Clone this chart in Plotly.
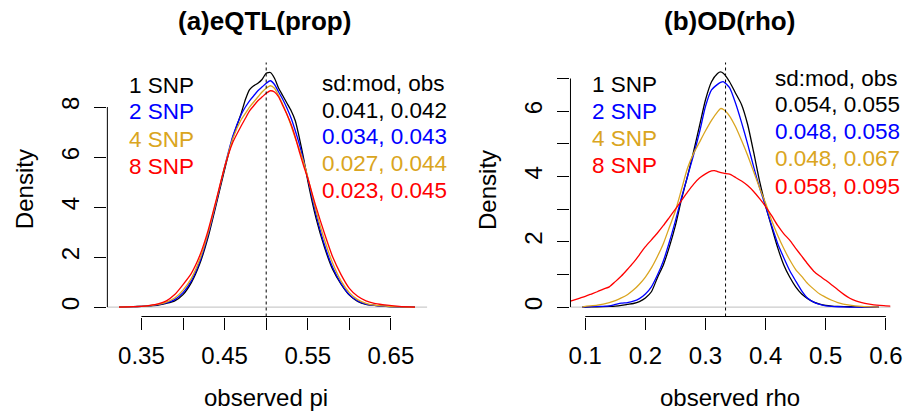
import plotly.graph_objects as go

# ---------------- data ----------------
series_names = ["1 SNP", "2 SNP", "4 SNP", "8 SNP"]
series_colors = ["#000000", "#0000FF", "#DAA520", "#FF0000"]

# panel (a): observed pi
pi_x = [0.323, 0.34, 0.35, 0.36, 0.37, 0.38, 0.39, 0.40, 0.41, 0.42, 0.43, 0.44, 0.45,
        0.46, 0.47, 0.475, 0.48, 0.485, 0.49, 0.495, 0.50, 0.505, 0.51, 0.515, 0.52,
        0.525, 0.53, 0.535, 0.54, 0.545, 0.55, 0.56, 0.57, 0.58, 0.59, 0.60, 0.61,
        0.62, 0.63, 0.64, 0.66, 0.679]
pi_snp1 = [0.0, 0.02, 0.03, 0.05, 0.08, 0.15, 0.25, 0.50, 0.98, 1.72, 2.78, 4.12, 5.50,
           6.80, 7.75, 8.30, 8.70, 8.85, 8.95, 9.10, 9.35, 9.38, 9.15, 8.75, 8.45,
           8.15, 7.85, 7.45, 6.75, 5.95, 5.05, 3.55, 2.40, 1.50, 0.92, 0.48, 0.23,
           0.11, 0.07, 0.04, 0.01, 0.0]
pi_snp2 = [0.0, 0.02, 0.03, 0.06, 0.10, 0.17, 0.30, 0.58, 1.05, 1.80, 2.88, 4.20, 5.60,
           6.85, 7.70, 8.00, 8.25, 8.45, 8.65, 8.80, 8.95, 9.05, 8.90, 8.60, 8.30,
           7.95, 7.55, 7.05, 6.50, 5.85, 5.15, 3.70, 2.50, 1.58, 0.95, 0.50, 0.25,
           0.12, 0.07, 0.04, 0.01, 0.0]
pi_snp4 = [0.0, 0.02, 0.03, 0.06, 0.11, 0.20, 0.36, 0.68, 1.15, 1.90, 2.95, 4.25, 5.60,
           6.75, 7.50, 7.75, 8.00, 8.20, 8.40, 8.60, 8.75, 8.85, 8.75, 8.45, 8.10,
           7.70, 7.25, 6.75, 6.30, 5.80, 5.20, 3.85, 2.70, 1.75, 1.05, 0.58, 0.30,
           0.15, 0.08, 0.05, 0.01, 0.0]
pi_snp8 = [0.0, 0.02, 0.03, 0.07, 0.13, 0.25, 0.50, 0.90, 1.35, 2.05, 3.05, 4.30, 5.60,
           6.60, 7.25, 7.55, 7.85, 8.05, 8.25, 8.40, 8.55, 8.65, 8.60, 8.40, 8.05,
           7.70, 7.30, 6.80, 6.20, 5.65, 5.15, 4.00, 2.95, 2.00, 1.30, 0.75, 0.43,
           0.25, 0.15, 0.10, 0.03, 0.0]
pi_true = 0.5
pi_sd_labels = ["sd:mod, obs", "0.041, 0.042", "0.034, 0.043", "0.027, 0.044", "0.023, 0.045"]
pi_xticks = [0.35, 0.40, 0.45, 0.50, 0.55, 0.60, 0.65]
pi_xticktext = ["0.35", "", "0.45", "", "0.55", "", "0.65"]
pi_yticks = [0, 2, 4, 6, 8]
pi_yticktext = ["0", "2", "4", "6", "8"]

# panel (b): observed rho
rho_x = [0.095, 0.10, 0.12, 0.14, 0.15, 0.16, 0.17, 0.18, 0.19, 0.20, 0.21, 0.22, 0.23,
         0.24, 0.25, 0.26, 0.27, 0.28, 0.29, 0.30, 0.31, 0.32, 0.325, 0.33, 0.34, 0.35,
         0.36, 0.37, 0.38, 0.39, 0.40, 0.41, 0.42, 0.43, 0.44, 0.45, 0.46, 0.47, 0.48,
         0.49, 0.50, 0.51, 0.52, 0.54, 0.56, 0.588]
rho_snp1 = [0.0, 0.0, 0.01, 0.02, 0.03, 0.05, 0.08, 0.11, 0.17, 0.28, 0.47, 0.90, 1.30,
            1.85, 2.50, 3.30, 4.00, 4.75, 5.55, 6.35, 6.90, 7.15, 7.20, 7.15, 6.90, 6.55,
            6.20, 5.60, 4.75, 3.85, 3.10, 2.45, 1.82, 1.30, 0.92, 0.62, 0.40, 0.26, 0.15,
            0.09, 0.05, 0.03, 0.02, 0.01, 0.0, 0.0]
rho_snp2 = [0.0, 0.01, 0.02, 0.04, 0.08, 0.12, 0.14, 0.18, 0.26, 0.40, 0.62, 0.98, 1.42,
            2.00, 2.65, 3.35, 4.00, 4.65, 5.35, 6.15, 6.65, 6.82, 6.88, 6.90, 6.72, 6.24,
            5.65, 5.00, 4.30, 3.65, 3.08, 2.50, 1.95, 1.52, 1.12, 0.80, 0.50, 0.27, 0.15,
            0.08, 0.04, 0.02, 0.01, 0.0, 0.0, 0.0]
rho_snp4 = [0.0, 0.02, 0.06, 0.14, 0.20, 0.28, 0.38, 0.52, 0.70, 0.92, 1.20, 1.55, 1.95,
            2.45, 2.95, 3.60, 4.25, 4.70, 5.05, 5.40, 5.72, 5.98, 6.08, 6.05, 5.85, 5.52,
            5.10, 4.65, 4.15, 3.65, 3.18, 2.65, 2.20, 1.80, 1.45, 1.15, 0.94, 0.72, 0.55,
            0.40, 0.30, 0.21, 0.14, 0.06, 0.02, 0.0]
rho8_x = [0.0754, 0.09, 0.10, 0.11, 0.12, 0.13, 0.14, 0.15, 0.16, 0.17, 0.18, 0.19, 0.20,
          0.21, 0.22, 0.23, 0.24, 0.25, 0.26, 0.27, 0.28, 0.29, 0.30, 0.31, 0.315, 0.32,
          0.33, 0.34, 0.35, 0.36, 0.37, 0.38, 0.39, 0.40, 0.41, 0.42, 0.43, 0.44, 0.45,
          0.46, 0.47, 0.48, 0.49, 0.50, 0.51, 0.52, 0.53, 0.54, 0.55, 0.56, 0.57, 0.58,
          0.59, 0.60, 0.6077]
rho_snp8 = [0.18, 0.27, 0.33, 0.40, 0.47, 0.55, 0.62, 0.78, 0.95, 1.15, 1.36, 1.60, 1.85,
            2.06, 2.27, 2.50, 2.75, 3.00, 3.26, 3.52, 3.76, 3.95, 4.08, 4.17, 4.18, 4.15,
            4.10, 4.07, 3.97, 3.86, 3.72, 3.54, 3.32, 3.08, 2.80, 2.50, 2.25, 2.05, 1.80,
            1.56, 1.32, 1.10, 0.95, 0.82, 0.68, 0.53, 0.39, 0.27, 0.19, 0.14, 0.10, 0.07,
            0.05, 0.04, 0.03]
rho_true = 1 / 3
rho_sd_labels = ["sd:mod, obs", "0.054, 0.055", "0.048, 0.058", "0.048, 0.067", "0.058, 0.095"]
rho_xticks = [0.1, 0.2, 0.3, 0.4, 0.5, 0.6]
rho_xticktext = ["0.1", "0.2", "0.3", "0.4", "0.5", "0.6"]
rho_yticks = [0, 1, 2, 3, 4, 5, 6, 7]
rho_yticktext = ["0", "", "2", "", "4", "", "6", ""]

titles = ["(a)eQTL(prop)", "(b)OD(rho)"]
xlabels = ["observed pi", "observed rho"]
ylabel = "Density"

# ---------------- layout constants ----------------
W, H = 916, 414
FONT = "Liberation Sans, Arial, Helvetica, sans-serif"

def px(x):
    return x / W

def py(y):
    return 1 - y / H

panels = [
    dict(xd=(107, 431.7), xr=(0.309, 0.6935), yr=(-0.376, 9.78),
         xt=pi_xticks, xtt=pi_xticktext, yt=pi_yticks, ytt=pi_yticktext, true=pi_true,
         series=[(pi_x, pi_snp1), (pi_x, pi_snp2), (pi_x, pi_snp4), (pi_x, pi_snp8)],
         sd=pi_sd_labels, leg_x=127, sd_x=323, leg_y=[85, 112, 139.3, 166.5],
         sd_y=[83.3, 110, 136.7, 163.3, 190.3], title_x=267, ylab_x=23, xlab_x=268),
    dict(xd=(577.3, 902.3), xr=(0.0754, 0.6077), yr=(-0.288, 7.49),
         xt=rho_xticks, xtt=rho_xticktext, yt=rho_yticks, ytt=rho_yticktext, true=rho_true,
         series=[(rho_x, rho_snp1), (rho_x, rho_snp2), (rho_x, rho_snp4), (rho8_x, rho_snp8)],
         sd=rho_sd_labels, leg_x=597, sd_x=782.7, leg_y=[84.7, 111.7, 138.7, 165.7],
         sd_y=[78.3, 104.7, 131.3, 158.7, 186.2], title_x=739, ylab_x=493, xlab_x=739),
]

fig = go.Figure()
annotations = []
shapes = []
ydom = (py(316.5), py(62.5))

for i, p in enumerate(panels):
    sfx = "" if i == 0 else str(i + 1)
    xa, ya = "x" + sfx, "y" + sfx
    # zero line (gray)
    shapes.append(dict(type="line", xref=f"{xa} domain", yref=ya, x0=0, x1=1, y0=0, y1=0,
                       line=dict(color="#BEBEBE", width=1), layer="below"))
    for (xs, ys), c, n in zip(p["series"], series_colors, series_names):
        fig.add_trace(go.Scatter(x=xs, y=ys, mode="lines", name=n, showlegend=False,
                                 line=dict(color=c, width=1.3, shape="spline", smoothing=0.6),
                                 xaxis=xa, yaxis=ya, cliponaxis=True))
    # true value dotted line
    shapes.append(dict(type="line", xref=xa, yref=f"{ya} domain", x0=p["true"], x1=p["true"],
                       y0=0, y1=1, line=dict(color="black", width=1, dash="dot")))
    # R-style axis lines spanning first..last tick
    shapes.append(dict(type="line", xref=xa, yref=f"{ya} domain", x0=p["xt"][0], x1=p["xt"][-1],
                       y0=0, y1=0, line=dict(color="black", width=1)))
    shapes.append(dict(type="line", xref=f"{xa} domain", yref=ya, x0=0, x1=0,
                       y0=p["yt"][0], y1=p["yt"][-1], line=dict(color="black", width=1)))
    axfont = dict(family=FONT, size=24, color="black")
    fig.update_layout(**{
        ("xaxis" + sfx): dict(domain=[px(p["xd"][0]), px(p["xd"][1])], range=list(p["xr"]),
                              anchor=ya, tickmode="array", tickvals=p["xt"], ticktext=p["xtt"],
                              ticks="outside", ticklen=12, tickwidth=1, tickcolor="black",
                              showline=False, showgrid=False, zeroline=False, tickfont=axfont,
                              ticklabelstandoff=6),
        ("yaxis" + sfx): dict(domain=list(ydom), range=list(p["yr"]), anchor=xa,
                              tickmode="array", tickvals=p["yt"], ticktext=p["ytt"],
                              ticks="outside", ticklen=12, tickwidth=1, tickcolor="black",
                              showline=False, showgrid=False, zeroline=False, tickfont=axfont,
                              tickangle=-90, ticklabelstandoff=6),
    })
    # title
    annotations.append(dict(text=f"<b>{titles[i]}</b>", x=px(p["title_x"]), y=py(21),
                            xref="paper", yref="paper", xanchor="center", yanchor="middle",
                            showarrow=False, font=dict(family=FONT, size=26, color="black")))
    # axis titles
    annotations.append(dict(text=ylabel, x=px(p["ylab_x"]), y=py(189.5), xref="paper",
                            yref="paper", xanchor="center", yanchor="middle", textangle=-90,
                            showarrow=False, font=axfont))
    annotations.append(dict(text=xlabels[i], x=px(p["xlab_x"]), y=py(397), xref="paper",
                            yref="paper", xanchor="center", yanchor="middle",
                            showarrow=False, font=axfont))
    # legend text
    for n, c, yy in zip(series_names, series_colors, p["leg_y"]):
        annotations.append(dict(text=n, x=px(p["leg_x"]), y=py(yy), xref="paper", yref="paper",
                                xanchor="left", yanchor="middle", showarrow=False,
                                font=dict(family=FONT, size=22.5, color=c)))
    sd_cols = ["#000000"] + series_colors
    for t, c, yy in zip(p["sd"], sd_cols, p["sd_y"]):
        annotations.append(dict(text=t, x=px(p["sd_x"]), y=py(yy), xref="paper", yref="paper",
                                xanchor="left", yanchor="middle", showarrow=False,
                                font=dict(family=FONT, size=22.5, color=c)))

fig.update_layout(width=W, height=H, margin=dict(l=0, r=0, t=0, b=0),
                  paper_bgcolor="white", plot_bgcolor="white",
                  annotations=annotations, shapes=shapes, showlegend=False,
                  font=dict(family=FONT, color="black"))
fig.write_html("out.html")
